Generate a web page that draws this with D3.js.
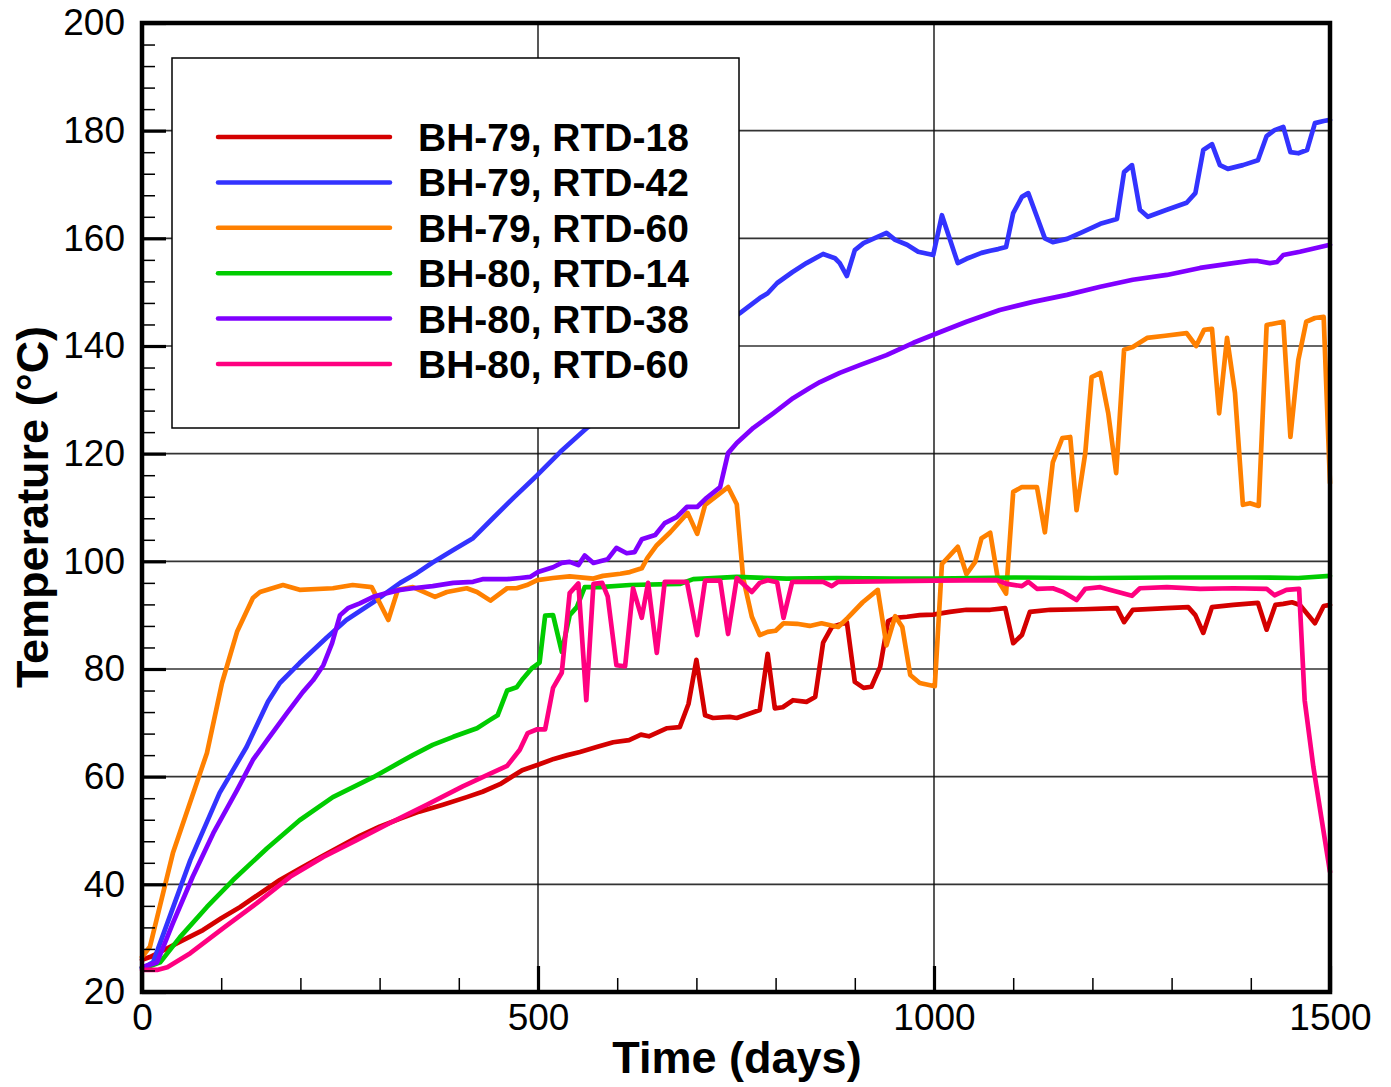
<!DOCTYPE html>
<html><head><meta charset="utf-8">
<script src="https://cdn.jsdelivr.net/npm/d3@7"></script>
<style>html,body{margin:0;padding:0;background:#fff;}svg{display:block;}</style>
</head><body>
<svg id="chart" width="1391" height="1087"></svg>
<script>
// ---- data (day, °C) ----
const seriesNames = ["BH-79, RTD-18","BH-79, RTD-42","BH-79, RTD-60","BH-80, RTD-14","BH-80, RTD-38","BH-80, RTD-60"];
const seriesColors = ["#d40000","#3333ff","#ff8000","#00cc00","#8000ff","#ff0080"];
const xTicks = [0,500,1000,1500];
const yTicks = [20,40,60,80,100,120,140,160,180,200];

const bh79rtd18 = [[0,26],[10,26.5],[20,27.2],[50,29.5],[77,31.5],[100,33.7],[124,35.8],[150,38.4],[174,40.8],[199,42.9],[225,45],[250,47],[275,49],[300,50.7],[326,52.2],[350,53.5],[380,54.8],[410,56.2],[430,57.2],[452,58.6],[480,61.2],[500,62.2],[520,63.3],[537,64],[553,64.6],[574,65.5],[595,66.4],[615,66.8],[630,67.8],[640,67.5],[663,69],[679,69.2],[690,73.5],[700,81.7],[711,71.4],[721,70.9],[742,71.1],[751,70.9],[780,72.4],[790,82.8],[799,72.7],[809,72.9],[822,74.2],[839,73.9],[850,74.8],[860,84.9],[871,87.8],[890,88.7],[900,77.6],[911,76.5],[921,76.7],[932,80.4],[942,88.9],[951,89.5],[966,89.7],[982,90],[999,90.1],[1020,90.6],[1041,91],[1071,91],[1090,91.3],[1100,84.8],[1111,86.3],[1121,90.6],[1147,91],[1188,91.1],[1231,91.3],[1240,88.7],[1251,91],[1294,91.3],[1321,91.5],[1330,90],[1340,86.7],[1351,91.5],[1378,91.9],[1409,92.3],[1420,87.3],[1431,91.9],[1441,92.1],[1452,92.4],[1462,91.9],[1481,88.5],[1492,91.7],[1500,91.9]];

const bh79rtd42 = [[0,24.4],[14,25.5],[32,32.8],[61,44.5],[98,57],[132,65.5],[159,73.9],[174,77.4],[199,81.1],[233,85.8],[258,89.1],[292,92.4],[326,96],[347,97.8],[366,99.7],[393,102.1],[418,104.3],[443,108],[469,111.8],[499,116],[528,120.3],[562,124.8],[600,129],[650,135],[700,140.5],[755,146.1],[780,148.9],[790,149.8],[802,151.7],[821,153.7],[839,155.4],[860,157.1],[875,156.3],[881,155.4],[890,153],[900,157.8],[911,159.1],[940,161],[951,159.7],[966,158.8],[980,157.5],[999,156.9],[1010,164.3],[1030,155.4],[1041,156.2],[1060,157.3],[1071,157.7],[1081,158],[1091,158.4],[1100,164.7],[1111,167.7],[1119,168.4],[1130,164],[1140,160],[1150,159.3],[1168,159.9],[1188,161.2],[1210,162.7],[1231,163.6],[1240,172.3],[1250,173.6],[1260,165.3],[1270,164],[1294,165.3],[1319,166.6],[1330,168.4],[1340,176.4],[1351,177.5],[1361,173.6],[1371,172.9],[1390,173.6],[1409,174.5],[1420,179],[1430,180.1],[1441,180.7],[1450,176],[1460,175.8],[1471,176.4],[1481,181.4],[1492,181.8],[1500,182]];

const bh79rtd60 = [[0,26.5],[10,28.4],[39,45.8],[82,64.4],[101,77.4],[120,86.9],[140,93.2],[149,94.3],[178,95.6],[199,94.7],[241,95],[266,95.6],[290,95.2],[311,89.1],[323,94.7],[342,95.2],[370,93.4],[385,94.3],[410,95],[423,94.3],[440,92.7],[461,95],[473,95],[486,95.6],[499,96.5],[519,96.9],[540,97.2],[570,96.8],[582,97.3],[604,97.7],[616,98],[631,98.7],[638,100.6],[650,103],[667,105.4],[689,109],[701,105.1],[711,110.5],[740,113.8],[751,110.6],[759,96.9],[770,89.7],[780,86.3],[790,86.9],[800,87.1],[810,88.5],[827,88.4],[843,88],[858,88.5],[879,87.8],[891,89.5],[910,92.4],[929,94.7],[940,84.4],[951,89.8],[960,87.8],[970,78.9],[982,77.4],[1001,76.8],[1010,99.5],[1030,102.7],[1041,97.6],[1052,99.9],[1060,104.3],[1071,105.3],[1081,96.4],[1091,94],[1100,112.9],[1111,113.8],[1130,113.8],[1140,105.4],[1150,118.4],[1162,122.9],[1172,123.1],[1180,109.5],[1191,120.1],[1199,134.2],[1210,135],[1220,127.5],[1230,116.4],[1240,139.3],[1251,139.8],[1269,141.5],[1292,141.9],[1319,142.4],[1331,140],[1341,143],[1351,143.2],[1360,127.5],[1370,141.5],[1380,131.3],[1390,110.5],[1399,110.8],[1410,110.3],[1420,143.9],[1441,144.5],[1450,123.1],[1460,137.4],[1470,144.5],[1481,145.2],[1492,145.4],[1500,114.5]];

const bh80rtd14 = [[0,24.6],[10,24.8],[23,25.5],[48,30.2],[82,35.8],[115,40.8],[158,46.7],[199,51.9],[241,56.2],[292,59.9],[326,62.7],[342,64],[367,65.9],[393,67.4],[423,69],[439,70.5],[449,71.4],[461,76],[473,76.6],[481,78.2],[492,80.1],[502,81.2],[509,89.9],[519,90],[530,83.2],[540,90],[549,91.5],[559,95.2],[578,95.2],[616,95.6],[679,95.8],[696,96.7],[751,97.1],[814,96.8],[877,96.9],[950,96.8],[1000,96.8],[1100,97],[1200,96.9],[1300,97],[1400,97],[1460,96.9],[1500,97.3]];

const bh80rtd38 = [[0,24.6],[19,25.5],[39,32.8],[64,41.4],[90,49.5],[120,57.5],[140,63.1],[158,66.8],[183,71.8],[203,75.7],[216,77.9],[229,80.7],[240,84.8],[250,90],[260,91.3],[275,92.2],[292,93.4],[309,94.1],[326,94.7],[342,95],[367,95.4],[393,96],[418,96.2],[431,96.7],[461,96.7],[477,96.9],[490,97.1],[500,98],[519,98.9],[530,99.7],[540,99.9],[551,99.3],[559,101.1],[570,99.7],[588,100.4],[599,102.5],[612,101.5],[622,101.7],[631,104.1],[648,104.9],[660,107.1],[675,108.2],[688,110.1],[701,110.1],[713,111.8],[730,113.8],[740,120.1],[751,122],[772,124.8],[797,127.5],[822,130.3],[843,132.2],[856,133.3],[881,135],[907,136.5],[940,138.3],[974,140.6],[1008,142.6],[1041,144.5],[1083,146.7],[1125,148.2],[1168,149.5],[1210,151],[1251,152.3],[1294,153.2],[1336,154.5],[1378,155.4],[1399,155.8],[1409,155.8],[1424,155.4],[1433,155.6],[1441,156.9],[1462,157.5],[1500,158.8]];

const bh80rtd60 = [[0,24.1],[19,24.1],[32,24.6],[61,27.2],[103,31.9],[145,36.5],[187,41.4],[229,45.1],[271,48.2],[313,51.4],[360,54.8],[405,58.2],[439,60.5],[461,62],[477,65],[487,68.1],[499,68.8],[509,68.8],[519,76.5],[530,79.3],[540,94.1],[551,95.9],[561,74.2],[570,95.8],[581,96],[588,93.5],[599,80.7],[610,80.5],[620,95],[631,89.5],[639,96],[650,83],[660,96.2],[688,96.2],[701,86.3],[711,96.4],[730,96.4],[740,86.5],[751,96.9],[770,94.3],[780,96],[790,96.5],[802,96.1],[810,89.5],[821,96.2],[860,96.2],[871,95.4],[879,96.2],[950,96.3],[1000,96.4],[1080,96.5],[1092,95.8],[1111,95.4],[1119,96.2],[1130,94.9],[1150,95],[1163,94.3],[1180,92.8],[1191,94.9],[1210,95.2],[1237,94.1],[1250,93.6],[1260,95],[1294,95.2],[1336,94.9],[1378,95],[1420,94.9],[1430,93.7],[1445,94.7],[1461,94.9],[1468,74.2],[1479,61.8],[1489,52.5],[1500,42.3]];

const allSeries = [bh79rtd18, bh79rtd42, bh79rtd60, bh80rtd14, bh80rtd38, bh80rtd60];

// ---- layout ----
const L = 142, R = 1330, T = 23, B = 992;
const FONT = "'Liberation Sans', Arial, Helvetica, sans-serif";
const svg = d3.select("#chart");
svg.append("rect").attr("width",1391).attr("height",1087).attr("fill","#fff");

const x = d3.scaleLinear().domain([0,1500]).range([L,R]);
const y = d3.scaleLinear().domain([20,200]).range([B,T]);

// grid
const grid = svg.append("g");
grid.selectAll("line.h").data(yTicks.filter(v => v > 20 && v < 200)).join("line")
  .attr("x1",L).attr("x2",R).attr("y1",d=>y(d)).attr("y2",d=>y(d))
  .attr("stroke","#333").attr("stroke-width",1.6);
grid.selectAll("line.v").data(xTicks.filter(v => v > 0 && v < 1500)).join("line")
  .attr("y1",T).attr("y2",B).attr("x1",d=>x(d)).attr("x2",d=>x(d))
  .attr("stroke","#111").attr("stroke-width",1.4);

// data lines
const line = d3.line().x(d=>x(d[0])).y(d=>y(d[1]));
svg.append("g").selectAll("path").data(allSeries).join("path")
  .attr("d", line).attr("fill","none")
  .attr("stroke",(d,i)=>seriesColors[i]).attr("stroke-width",4.7)
  .attr("stroke-linejoin","round").attr("stroke-linecap","round");

// legend
const lg = svg.append("g");
lg.append("rect").attr("x",172).attr("y",58).attr("width",567).attr("height",370)
  .attr("fill","#fff").attr("stroke","#000").attr("stroke-width",1.5);
const rowY = i => 137 + i*45.4;
seriesNames.forEach((name,i) => {
  lg.append("line").attr("x1",218).attr("x2",390).attr("y1",rowY(i)).attr("y2",rowY(i))
    .attr("stroke",seriesColors[i]).attr("stroke-width",4.5).attr("stroke-linecap","round");
  lg.append("text").attr("x",418).attr("y",rowY(i)+14).text(name)
    .attr("font-family",FONT).attr("font-weight","bold").attr("font-size",39).attr("fill","#000");
});

// axes (ticks inward)
function styleAxis(g){
  g.select(".domain").remove();
  g.selectAll("text").attr("font-family",FONT).attr("font-size",37).attr("fill","#000");
}
const minorY = d3.range(20,201,4).filter(v => (v-20)%20 !== 0);
const minorX = d3.range(0,1501,100).filter(v => v%500 !== 0);

svg.append("g").attr("transform",`translate(${L},0)`)
  .call(d3.axisLeft(y).tickValues(minorY).tickSize(-13).tickFormat(""))
  .call(g=>{g.select(".domain").remove(); g.selectAll("line").attr("stroke","#000").attr("stroke-width",1.5);});
svg.append("g").attr("transform",`translate(${L},0)`)
  .call(d3.axisLeft(y).tickValues(yTicks).tickSize(-24).tickPadding(17).tickFormat(d3.format("d")))
  .call(styleAxis)
  .call(g=>g.selectAll("line").attr("stroke","#000").attr("stroke-width",3.2));

svg.append("g").attr("transform",`translate(0,${B})`)
  .call(d3.axisBottom(x).tickValues(minorX).tickSize(-14).tickFormat(""))
  .call(g=>{g.select(".domain").remove(); g.selectAll("line").attr("stroke","#000").attr("stroke-width",1.5);});
svg.append("g").attr("transform",`translate(0,${B})`)
  .call(d3.axisBottom(x).tickValues(xTicks).tickSize(-26).tickPadding(12).tickFormat(d3.format("d")))
  .call(styleAxis)
  .call(g=>g.selectAll("line").attr("stroke","#000").attr("stroke-width",3.2));

// frame
svg.append("rect").attr("x",L).attr("y",T).attr("width",R-L).attr("height",B-T)
  .attr("fill","none").attr("stroke","#000").attr("stroke-width",4.5);

// titles
svg.append("text").attr("x",737).attr("y",1073).attr("text-anchor","middle")
  .attr("font-family",FONT).attr("font-weight","bold").attr("font-size",45).text("Time (days)");
svg.append("text").attr("transform","translate(48,507) rotate(-90)").attr("text-anchor","middle")
  .attr("font-family",FONT).attr("font-weight","bold").attr("font-size",45).text("Temperature (°C)");
</script>
</body></html>
